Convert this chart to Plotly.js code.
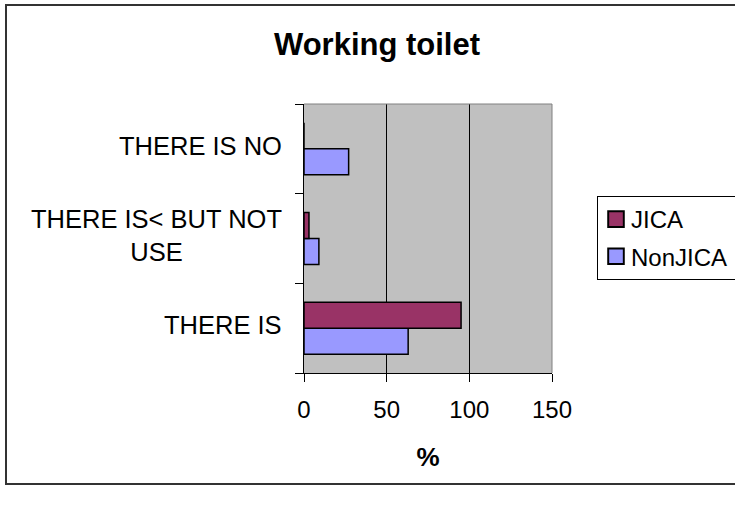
<!DOCTYPE html>
<html>
<head>
<meta charset="utf-8">
<script src="https://cdn.plot.ly/plotly-3.0.1.min.js"></script>
<style>
  html, body { margin: 0; padding: 0; background: #ffffff; }
  #chart { width: 735px; height: 505px; }
</style>
</head>
<body>
<div id="chart"></div>
<script>
// Categories, bottom to top as drawn
const categories = ["THERE IS", "THERE IS< BUT NOT USE", "THERE IS NO"];
const categoryLabels = ["THERE IS", "THERE IS< BUT NOT<br>USE", "THERE IS NO"];
const seriesNames = ["NonJICA", "JICA"];
const nonJicaValues = [63, 9, 27];
const jicaValues = [95, 3, 0];
const xTickValues = [0, 50, 100, 150];
const chartTitle = "Working toilet";
const xAxisTitle = "%";

const FONT = "Liberation Sans, Arial, sans-serif";

const traces = [
  {
    type: "bar", orientation: "h", name: seriesNames[0],
    x: nonJicaValues, y: categories,
    marker: { color: "#9999ff", line: { color: "#000000", width: 1.5 } },
    legendgroup: "b", legendrank: 2
  },
  {
    type: "bar", orientation: "h", name: seriesNames[1],
    x: jicaValues, y: categories,
    marker: { color: "#993366", line: { color: "#000000", width: 1.5 } },
    legendgroup: "a", legendrank: 1
  }
];

const L = 304, R = 552, T = 104, B = 373;
const px2x = p => (p - L) / (R - L);
const px2y = p => (B - p) / (B - T);

const annotations = categories.map((c, i) => ({
  xref: "paper", yref: "y", x: px2x(284), y: c,
  xanchor: "right", yanchor: "middle", align: "center",
  text: categoryLabels[i], showarrow: false, yshift: 3,
  font: { family: FONT, size: 25.5, color: "#000000" }
}));

const layout = {
  width: 735, height: 505,
  margin: { l: L, r: 735 - R, t: T, b: 505 - B, pad: 0, autoexpand: false },
  paper_bgcolor: "#ffffff",
  plot_bgcolor: "#c0c0c0",
  showlegend: true,
  barmode: "group",
  bargap: 0.42,
  bargroupgap: 0,
  title: {
    text: chartTitle,
    xref: "container", yref: "container",
    x: 377 / 735, xanchor: "center",
    y: 1 - 44 / 505, yanchor: "middle",
    font: { family: FONT, size: 31, color: "#000000", weight: "bold" }
  },
  xaxis: {
    range: [0, 150], tickvals: xTickValues, ticktext: xTickValues.map(String),
    ticks: "outside", ticklen: 8, tickcolor: "#000000", tickwidth: 1,
    ticklabelstandoff: 7,
    showline: true, linecolor: "#000000", linewidth: 1,
    showgrid: true, gridcolor: "#000000", gridwidth: 1,
    zeroline: false,
    tickfont: { family: FONT, size: 24, color: "#000000" },
    title: { text: xAxisTitle, standoff: 26,
      font: { family: FONT, size: 26, color: "#000000", weight: "bold" } },
    fixedrange: true
  },
  yaxis: {
    type: "category", categoryorder: "array", categoryarray: categories,
    showticklabels: false,
    ticks: "outside", ticklen: 8, tickcolor: "#000000", tickwidth: 1,
    tickson: "boundaries",
    showline: true, linecolor: "#000000", linewidth: 1,
    showgrid: false, zeroline: false,
    fixedrange: true
  },
  legend: {
    x: px2x(597), y: px2y(196), xanchor: "left", yanchor: "top",
    xref: "paper", yref: "paper",
    traceorder: "grouped", tracegroupgap: 3,
    bgcolor: "#ffffff", bordercolor: "#000000", borderwidth: 1,
    font: { family: FONT, size: 24, color: "#000000" },
    itemclick: false, itemdoubleclick: false
  },
  annotations: annotations,
  shapes: [
    { type: "line", xref: "paper", yref: "paper", x0: 0, x1: 1, y0: 1, y1: 1,
      line: { color: "#808080", width: 1 } },
    { type: "line", xref: "paper", yref: "paper", x0: 1, x1: 1, y0: 0, y1: 1,
      line: { color: "#808080", width: 1 } },
    { type: "rect", xref: "paper", yref: "paper",
      x0: px2x(6), x1: px2x(760), y0: px2y(484), y1: px2y(5),
      line: { color: "#333333", width: 2 }, fillcolor: "rgba(0,0,0,0)", layer: "below" }
  ]
};

Plotly.newPlot("chart", traces, layout, { displayModeBar: false, staticPlot: true }).then(gd => {
  // Enlarge legend swatches and tighten the gap to the text, as in the reference
  gd.querySelectorAll(".legend .legendpoints").forEach(g => {
    g.setAttribute("transform", "translate(-8,0) scale(1.3)");
  });
  gd.querySelectorAll(".legend .legendtext").forEach(t => {
    const x = parseFloat(t.getAttribute("x") || "0");
    t.setAttribute("x", String(x - 7));
  });
});
</script>
</body>
</html>
